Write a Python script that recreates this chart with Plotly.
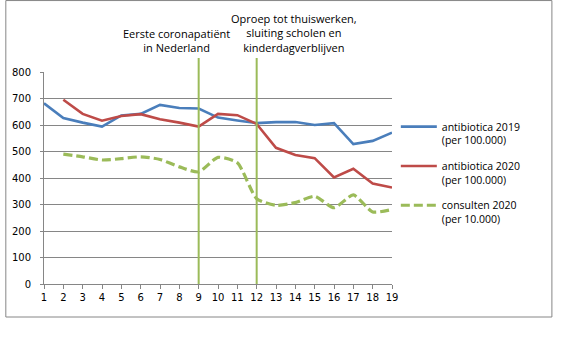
import plotly.graph_objects as go

weeks = list(range(1, 20))
antibiotica_2019 = [682, 626, 609, 594, 636, 642, 676, 664, 662, 628, 617, 607, 611, 611, 600, 607, 528, 540, 571]
antibiotica_2020 = [None, 695, 642, 616, 634, 641, 622, 609, 594, 642, 637, 604, 514, 487, 475, 402, 435, 379, 364]
consulten_2020 = [None, 490, 480, 468, 473, 480, 470, 442, 423, 478, 458, 322, 297, 307, 331, 288, 336, 272, 281]
y_ticks = [0, 100, 200, 300, 400, 500, 600, 700, 800]
event_weeks = [9, 12]
event_labels = ["Eerste coronapatiënt<br>in Nederland",
                "Oproep tot thuiswerken,<br>sluiting scholen en<br>kinderdagverblijven"]
event_label_x = [7.87, 13.92]

BLUE = "#4A7EBB"
RED = "#BE4B48"
GREEN = "#9BBB59"
GRID = "#868686"
TXT_FONT = "Open Sans"

fig = go.Figure()
fig.add_trace(go.Scatter(x=weeks, y=antibiotica_2019, mode="lines", legendgroup="a",
                         name="antibiotica 2019<br>(per 100.000)",
                         line=dict(color=BLUE, width=2.6)))
fig.add_trace(go.Scatter(x=weeks, y=antibiotica_2020, mode="lines", legendgroup="b",
                         name="antibiotica 2020<br>(per 100.000)",
                         line=dict(color=RED, width=2.6)))
fig.add_trace(go.Scatter(x=weeks, y=consulten_2020, mode="lines", legendgroup="c",
                         name="consulten 2020<br>(per 10.000)",
                         line=dict(color=GREEN, width=3.2, dash="9px,4px", shape="spline", smoothing=0.6)))

shapes = []
for w in event_weeks:
    shapes.append(dict(type="line", xref="x", yref="paper", x0=w, x1=w, y0=0, y1=1.066,
                       line=dict(color=GREEN, width=2), layer="above"))
# outer chart frame
shapes.append(dict(type="rect", xref="paper", yref="paper",
                   x0=-0.1097, x1=1.4595, y0=-0.1557, y1=1.337,
                   line=dict(color=GRID, width=1), fillcolor="rgba(0,0,0,0)"))

annotations = []
for lab, ax in zip(event_labels, event_label_x):
    annotations.append(dict(text=lab, x=ax, xref="x", y=1.071, yref="paper",
                            xanchor="center", yanchor="bottom", showarrow=False,
                            align="center", font=dict(family=TXT_FONT, size=11, color="#000")))

fig.update_layout(
    width=580, height=363,
    margin=dict(l=41, r=188, t=72, b=79),
    paper_bgcolor="white", plot_bgcolor="white",
    showlegend=True,
    legend=dict(x=1.011, xanchor="left", y=0.805, yanchor="top", valign="top",
                font=dict(family=TXT_FONT, size=10.5, color="#000"),
                tracegroupgap=9, itemwidth=36, bgcolor="rgba(0,0,0,0)"),
    shapes=shapes, annotations=annotations,
)
fig.update_xaxes(range=[1, 19], tickmode="array", tickvals=weeks, ticktext=[str(w) for w in weeks],
                 showgrid=False, zeroline=False, showline=True, linecolor=GRID, linewidth=1,
                 ticks="outside", ticklen=4, tickcolor=GRID,
                 tickfont=dict(family="DejaVu Sans", size=10, color="#000"))
fig.update_yaxes(range=[0, 800], tickmode="array", tickvals=y_ticks,
                 showgrid=True, gridcolor=GRID, gridwidth=1, zeroline=False,
                 showline=True, linecolor=GRID, linewidth=1,
                 ticks="outside", ticklen=3, tickcolor=GRID, ticklabelstandoff=7,
                 tickfont=dict(family="DejaVu Sans", size=10, color="#000"))

fig.write_html("out.html", config={"displayModeBar": False},
               post_script="document.body.style.margin='0px';")
